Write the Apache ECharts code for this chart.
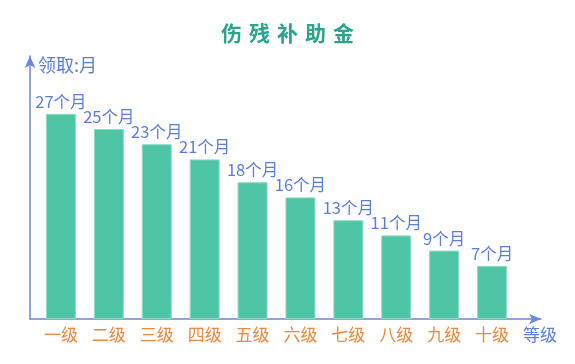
<!DOCTYPE html>
<html>
<head>
<meta charset="utf-8">
<script src="https://cdn.jsdelivr.net/npm/echarts@6/dist/echarts.min.js"></script>
<style>
html,body{margin:0;padding:0;background:#fff;}
#main{width:575px;height:364px;}
</style>
</head>
<body>
<div id="main"></div>
<script>
var titleText = '伤残补助金';
var categories = ['一级','二级','三级','四级','五级','六级','七级','八级','九级','十级'];
var months = [27, 25, 23, 21, 18, 16, 13, 11, 9, 7];
var yAxisName = '领取:月';
var xAxisName = '等级';
var labelSuffix = '个月';

var blue = '#5b7de0';
var axisBlue = '#6b87de';
var chart = echarts.init(document.getElementById('main'));
chart.setOption({
  animation: false,
  title: {
    text: titleText.split('').join('\u2004'),
    left: 'center', top: 18,
    textStyle: { color: '#2aa38f', fontSize: 21, fontWeight: 'bold', fontFamily: 'Noto Sans CJK SC' }
  },
  grid: [
    { left: 37, width: 479, top: 91, bottom: 45 },
    { left: 30, right: 34, top: 56, bottom: 45 }
  ],
  xAxis: [
    {
      gridIndex: 0, type: 'category', data: categories,
      axisLine: { show: false }, axisTick: { show: false },
      axisLabel: { color: '#f0883c', fontSize: 17, margin: 7, fontFamily: 'Noto Sans CJK SC' }
    },
    {
      gridIndex: 1, type: 'category', data: [],
      axisLine: { show: true, symbol: ['none', 'arrow'], symbolSize: [8, 12], lineStyle: { color: axisBlue, width: 1.5 } },
      axisTick: { show: false }, axisLabel: { show: false },
      name: xAxisName, nameLocation: 'end', nameGap: -18,
      nameTextStyle: { color: blue, fontSize: 17, align: 'left', verticalAlign: 'top', padding: [7, 0, 0, 0], fontFamily: 'Noto Sans CJK SC' }
    }
  ],
  yAxis: [
    {
      gridIndex: 0, type: 'value', min: 0, max: 30, show: false
    },
    {
      gridIndex: 1, type: 'value', min: 0, max: 1,
      axisLine: { show: true, symbol: ['none', 'arrow'], symbolSize: [8, 12], lineStyle: { color: axisBlue, width: 1.5 } },
      axisTick: { show: false }, axisLabel: { show: false }, splitLine: { show: false },
      name: yAxisName, nameLocation: 'end', nameGap: -9,
      nameTextStyle: { color: blue, fontSize: 18, align: 'left', verticalAlign: 'middle', padding: [0, 0, 0, 8], fontFamily: 'Noto Sans CJK SC' }
    }
  ],
  series: [{
    type: 'bar', xAxisIndex: 0, yAxisIndex: 0,
    data: months, barWidth: 30,
    itemStyle: { color: '#4ec6a6', borderColor: '#8fdcc6', borderWidth: 1 },
    label: {
      show: true, position: 'top', distance: 4,
      color: blue, fontSize: 16.5, fontFamily: 'Noto Sans CJK SC',
      formatter: function (p) { return p.value + labelSuffix; }
    }
  }]
});
</script>
</body>
</html>
